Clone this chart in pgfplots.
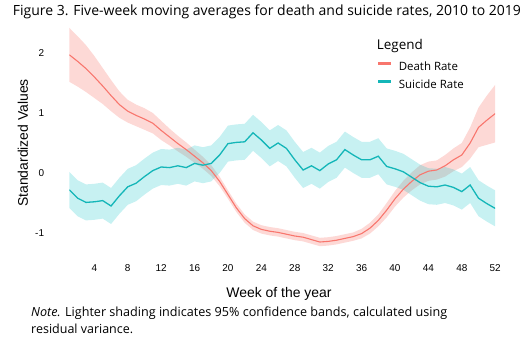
\documentclass[border=0pt]{standalone}
\usepackage{fontspec}
\setmainfont{Liberation Sans}
\newfontfamily\apt{Open Sans}
\usepackage{pgfplots}
\pgfplotsset{compat=1.18}
\usepgfplotslibrary{fillbetween}
\usepackage{pgfplotstable}
\definecolor{deathc}{HTML}{F8766D}
\definecolor{suic}{HTML}{00BFC4}
\definecolor{suiline}{HTML}{14B6B8}

\pgfplotstableread{
w d dlo dhi s slo shi
1 1.97 1.52 2.42 -0.28 -0.58 0.02
2 1.86 1.44 2.28 -0.42 -0.72 -0.12
3 1.74 1.35 2.13 -0.49 -0.79 -0.19
4 1.60 1.25 1.95 -0.48 -0.78 -0.18
5 1.45 1.15 1.75 -0.46 -0.76 -0.16
6 1.29 1.03 1.55 -0.55 -0.85 -0.25
7 1.14 0.92 1.36 -0.38 -0.68 -0.08
8 1.03 0.84 1.22 -0.23 -0.53 0.07
9 0.96 0.78 1.14 -0.17 -0.47 0.13
10 0.90 0.72 1.08 -0.06 -0.36 0.24
11 0.83 0.66 1.00 0.04 -0.26 0.34
12 0.71 0.55 0.87 0.10 -0.20 0.40
13 0.60 0.46 0.74 0.09 -0.21 0.39
14 0.49 0.36 0.62 0.12 -0.18 0.42
15 0.39 0.27 0.51 0.09 -0.21 0.39
16 0.28 0.17 0.39 0.16 -0.14 0.46
17 0.17 0.07 0.27 0.13 -0.17 0.43
18 0.04 -0.05 0.13 0.16 -0.14 0.46
19 -0.14 -0.22 -0.06 0.30 0.00 0.60
20 -0.36 -0.43 -0.29 0.49 0.19 0.79
21 -0.58 -0.65 -0.51 0.51 0.21 0.81
22 -0.76 -0.83 -0.69 0.52 0.22 0.82
23 -0.88 -0.95 -0.81 0.67 0.37 0.97
24 -0.94 -1.01 -0.87 0.55 0.25 0.85
25 -0.97 -1.04 -0.90 0.41 0.11 0.71
26 -0.99 -1.06 -0.92 0.50 0.20 0.80
27 -1.02 -1.09 -0.95 0.41 0.11 0.71
28 -1.05 -1.12 -0.98 0.22 -0.08 0.52
29 -1.07 -1.14 -1.00 0.05 -0.25 0.35
30 -1.11 -1.18 -1.04 0.12 -0.18 0.42
31 -1.15 -1.22 -1.08 0.04 -0.26 0.34
32 -1.14 -1.21 -1.07 0.15 -0.15 0.45
33 -1.12 -1.19 -1.05 0.22 -0.08 0.52
34 -1.09 -1.16 -1.02 0.39 0.09 0.69
35 -1.06 -1.13 -0.99 0.30 0.00 0.60
36 -1.01 -1.09 -0.93 0.22 -0.08 0.52
37 -0.92 -1.01 -0.83 0.22 -0.08 0.52
38 -0.79 -0.89 -0.69 0.28 -0.02 0.58
39 -0.62 -0.74 -0.50 0.11 -0.19 0.41
40 -0.43 -0.56 -0.30 0.07 -0.23 0.37
41 -0.27 -0.41 -0.13 0.02 -0.28 0.32
42 -0.14 -0.29 0.01 -0.07 -0.37 0.23
43 -0.03 -0.19 0.13 -0.16 -0.46 0.14
44 0.03 -0.13 0.19 -0.22 -0.52 0.08
45 0.05 -0.11 0.21 -0.23 -0.53 0.07
46 0.12 -0.06 0.30 -0.20 -0.50 0.10
47 0.22 0.03 0.41 -0.24 -0.54 0.06
48 0.30 0.10 0.50 -0.31 -0.61 -0.01
49 0.50 0.24 0.76 -0.20 -0.50 0.10
50 0.76 0.43 1.09 -0.42 -0.72 -0.12
51 0.88 0.47 1.29 -0.51 -0.81 -0.21
52 0.99 0.51 1.47 -0.59 -0.89 -0.29
}\data

\begin{document}
\begin{tikzpicture}[x=1bp,y=1bp]
\node[anchor=base west, inner sep=0pt, font=\apt\fontsize{12.5}{15}\selectfont] at (12.7,329) {\resizebox{508bp}{!}{Figure 3. Five-week moving averages for death and suicide rates, 2010 to 2019}};
\begin{axis}[
  at={(69.3bp,84bp)}, anchor=south west,
  scale only axis, width=425.9bp, height=234bp,
  xmin=1, xmax=52, ymin=-1.45, ymax=2.45,
  axis line style={draw=none},
  major tick length=0pt,
  xtick={4,8,...,52}, ytick={-1,0,1,2},
  tick label style={font=\fontsize{10}{12}\selectfont},
  /pgf/number format/assume math mode=true,
  yticklabel style={anchor=east, inner sep=0pt, xshift=-25bp},
  xticklabel style={anchor=north, inner sep=0pt, yshift=-4.5bp},
  xlabel={Week of the year}, ylabel={Standardized Values},
  label style={font=\fontsize{14}{16}\selectfont},
  xlabel style={at={(axis description cs:0.4924,-0.162)}, anchor=base, inner sep=0pt},
  ylabel style={at={(axis description cs:-0.1087,0.5)}, anchor=center, inner sep=0pt},
  legend style={draw=none, fill=none, at={(axis description cs:0.7218,0.848)}, anchor=north west,
    inner sep=0pt, font=\apt\fontsize{11.5}{13}\selectfont, row sep=7.5bp,
    /tikz/every odd column/.append style={column sep=6.7bp}, nodes={inner sep=0pt}},
  legend image code/.code={\draw[#1, line width=2.6bp] (0bp,0.33em) -- (12.6bp,0.33em);},
  legend cell align=left,
]
\addplot[name path=dlo, draw=none, forget plot] table[x=w, y=dlo]{\data};
\addplot[name path=dhi, draw=none, forget plot] table[x=w, y=dhi]{\data};
\addplot[fill=deathc, fill opacity=0.28, draw=none, forget plot] fill between[of=dlo and dhi];
\addplot[name path=slo, draw=none, forget plot] table[x=w, y=slo]{\data};
\addplot[name path=shi, draw=none, forget plot] table[x=w, y=shi]{\data};
\addplot[fill=suic, fill opacity=0.22, draw=none, forget plot] fill between[of=slo and shi];
\addplot[deathc, line width=1.1bp] table[x=w, y=d]{\data};
\addlegendentry{Death Rate}
\addplot[suiline, line width=1.3bp] table[x=w, y=s]{\data};
\addlegendentry{Suicide Rate}
\node[anchor=west, inner sep=0pt, font=\apt\fontsize{13.5}{15}\selectfont] at (axis description cs:0.7218,0.9145) {Legend};
\end{axis}
\node[anchor=base west, inner sep=0pt, font=\apt\fontsize{12.5}{15}\selectfont] at (31,27.3) {\resizebox{416bp}{!}{\textit{Note.} Lighter shading indicates 95\% confidence bands, calculated using}};
\node[anchor=base west, inner sep=0pt, font=\apt\fontsize{12.5}{15}\selectfont] at (31,11) {\resizebox{102bp}{!}{residual variance.}};
\pgfresetboundingbox
\useasboundingbox (0,0) rectangle (530,344);
\end{tikzpicture}
\end{document}
